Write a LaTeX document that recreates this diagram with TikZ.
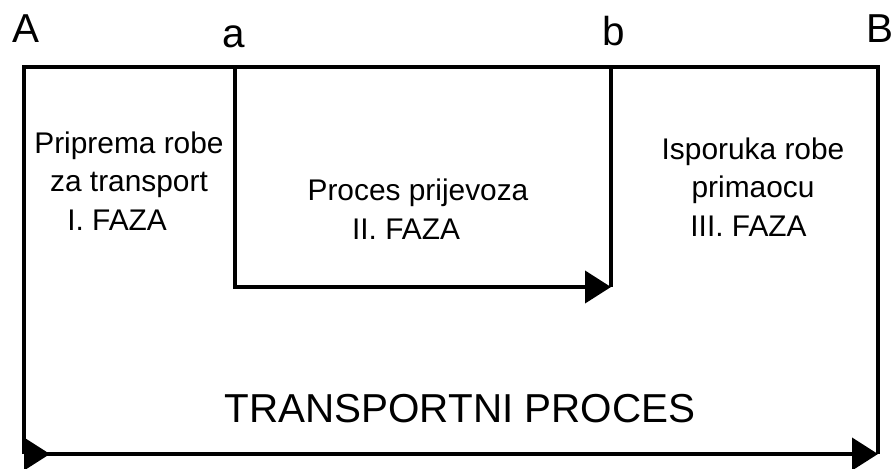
\documentclass[tikz,border=0pt]{standalone}
\usepackage{fontspec}
\setmainfont{Liberation Sans}
\usetikzlibrary{arrows.meta}
\tikzset{flowtip/.tip={Triangle[length=0.52cm, width=0.64cm]}}
\begin{document}
\begin{tikzpicture}[x=0.02cm, y=0.02cm,
  line/.style={line width=2.3pt, line join=miter},
  corner/.style={font=\fontsize{23}{27}\selectfont, inner sep=0pt, anchor=base},
  phase/.style={font=\fontsize{17}{22}\selectfont, align=center, inner sep=0pt}]
\useasboundingbox (0,0) rectangle (891,468);
\coordinate (A) at (24,401);
\coordinate (B) at (878,401);
\coordinate (a) at (235,401);
\coordinate (b) at (611,401);
\coordinate (A0) at (24,14);
\coordinate (B0) at (878,14);
\coordinate (a0) at (235,181);
\coordinate (b0) at (611,181);
\node[corner] (lA) at (26,426) {A};
\node[corner] (la) at (234,421) {a};
\node[corner] (lb) at (614,423) {b};
\node[corner] (lB) at (880,426) {B};
\node[phase] (f1) at (129,287) {Priprema robe\\za transport\\I. FAZA\hspace*{0.8em}};
\node[phase] (f2) at (418,259) {Proces prijevoza\\II. FAZA\hspace*{0.8em}};
\node[phase] (f3) at (753,281) {Isporuka robe\\primaocu\\III. FAZA\hspace*{0.3em}};
\node[corner] (tp) at (460,46) {TRANSPORTNI PROCES};
\path[draw,line] (A0) -- (A) -- (B) -- (B0);
\path[draw,line,{flowtip[reversed]}-{flowtip}] (A0) -- (B0);
\path[draw,line,-{flowtip}] (a) -- (a0) -- (b0);
\path[draw,line] (b) -- (b0);
\end{tikzpicture}
\end{document}
